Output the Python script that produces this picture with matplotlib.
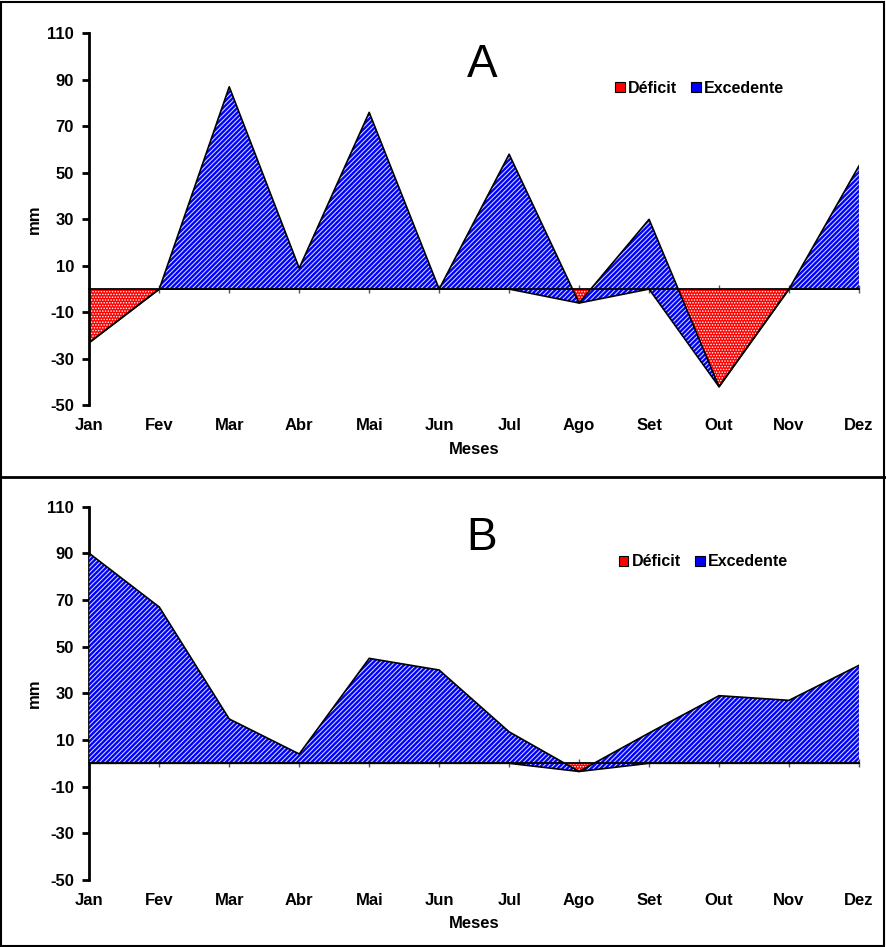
import numpy as np
import matplotlib
matplotlib.use("Agg")
import matplotlib.pyplot as plt
from matplotlib.patches import Patch, Rectangle
from matplotlib.lines import Line2D

plt.rcParams["font.family"] = ["Liberation Sans", "DejaVu Sans"]
plt.rcParams["hatch.linewidth"] = 0.7

# Balanço hídrico mensal (mm)
meses = ["Jan", "Fev", "Mar", "Abr", "Mai", "Jun",
         "Jul", "Ago", "Set", "Out", "Nov", "Dez"]

deficit_a = [-23, 0, 0, 0, 0, 0, 0, -6, 0, -42, 0, 0]
excedente_a = [0, 0, 87, 9, 76, 0, 58, 0, 30, 0, 0, 53]

deficit_b = [0, 0, 0, 0, 0, 0, 0, -3.5, 0, 0, 0, 0]
excedente_b = [90, 67, 19, 4, 45, 40, 13.5, 0, 13, 29, 27, 42]

y_ticks = [110, 90, 70, 50, 30, 10, -10, -30, -50]


def draw_panel(ax, deficit, excedente, letra, leg_anchor):
    x = np.arange(len(meses))
    deficit = np.array(deficit, dtype=float)
    topo = deficit + np.array(excedente, dtype=float)

    # Areas empilhadas (estilo Excel)
    ax.fill_between(x, 0, deficit, facecolor="#ff0000", edgecolor="white",
                    hatch="......", linewidth=0, zorder=2)
    ax.fill_between(x, deficit, topo, facecolor="#0000ff", edgecolor="#e0e6ff",
                    hatch="///////", linewidth=0, zorder=3)
    ax.plot(x, deficit, color="black", lw=1.2, zorder=4)
    ax.plot(x, topo, color="black", lw=1.2, zorder=4)
    ax.plot([x[-1], x[-1]], [deficit[-1], topo[-1]], color="#444444", lw=1, zorder=4)

    ax.set_xlim(0, 11)
    ax.set_ylim(-50, 110)
    ax.set_yticks(y_ticks)
    ax.set_yticklabels([str(v) for v in y_ticks], fontsize=12, fontweight="bold")

    # Eixo x cruzando no zero
    ax.spines["bottom"].set_position(("data", 0))
    ax.spines["bottom"].set_linewidth(1.3)
    ax.spines["top"].set_visible(False)
    ax.spines["right"].set_visible(False)
    ax.spines["left"].set_linewidth(2)
    ax.spines["bottom"].set_zorder(5)
    ax.set_xticks(x)
    ax.tick_params(axis="x", direction="inout", length=6, width=1,
                   color="#555555", labelbottom=False)
    ax.tick_params(axis="y", direction="out", length=5, width=2, pad=6)

    for xi, m in zip(x, meses):
        ax.text(xi, -0.055, m, transform=ax.get_xaxis_transform(),
                ha="center", va="center", fontsize=12, fontweight="bold")

    ax.text(0.5, -0.118, "Meses", transform=ax.transAxes, ha="center",
            va="center", fontsize=12, fontweight="bold")
    ax.text(-0.072, 0.5, "mm", transform=ax.transAxes, ha="center",
            va="center", rotation=90, fontsize=12, fontweight="bold")
    ax.text(0.51, 0.915, letra, transform=ax.transAxes, ha="center",
            va="center", fontsize=33)

    handles = [
        Patch(facecolor="#ff0000", edgecolor="black", lw=0.8, label="Déficit"),
        Patch(facecolor="#0000ff", edgecolor="black", lw=0.8, label="Excedente"),
    ]
    ax.legend(handles=handles, loc="center left", bbox_to_anchor=leg_anchor,
              ncol=2, frameon=False, handlelength=0.6, handleheight=0.6,
              handletextpad=0.2, columnspacing=0.9, borderpad=0,
              borderaxespad=0, prop={"weight": "bold", "size": 11.5})


fig = plt.figure(figsize=(8.86, 9.47), dpi=100)

ax_a = fig.add_axes([0.1008, 0.572, 0.8687, 0.3928])
draw_panel(ax_a, deficit_a, excedente_a, "A", (0.683, 0.853))

ax_b = fig.add_axes([0.1008, 0.0708, 0.8687, 0.3941])
draw_panel(ax_b, deficit_b, excedente_b, "B", (0.688, 0.852))

# Molduras dos painéis
fig.add_artist(Rectangle((0.001, 0.001), 0.997, 0.997, transform=fig.transFigure,
                         fill=False, edgecolor="black", lw=1.5))
fig.add_artist(Line2D([0, 1], [0.4963, 0.4963], transform=fig.transFigure,
                      color="black", lw=2))

fig.savefig("out.png", dpi=100)
